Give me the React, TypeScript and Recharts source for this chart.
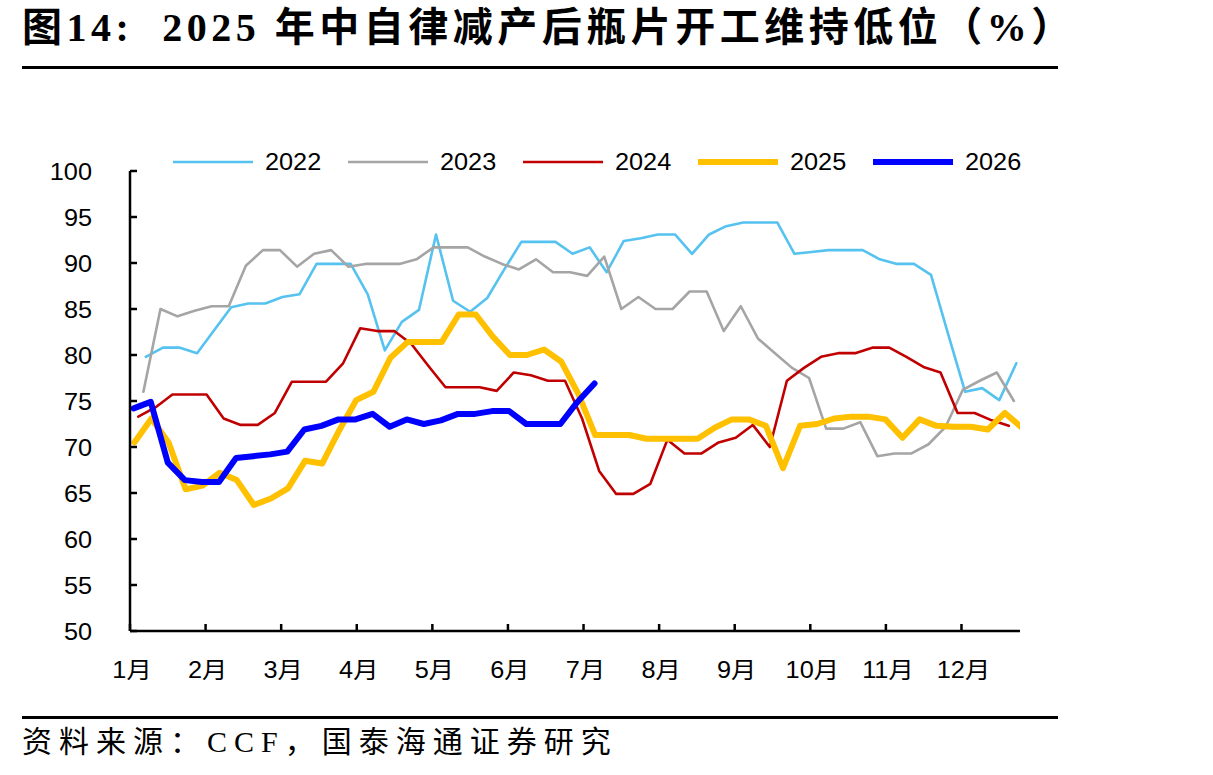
import React from "react";
import { LineChart, Line, XAxis, YAxis } from "recharts";

// weekly operating rate of PET bottle-chip plants, %
const years = ["2022", "2023", "2024", "2025", "2026"];

// day of year (0 = 1 Jan) of the first weekly reading in each year
const firstReadingDay = [6.5, 5.5, 3.4, 1.8, 1.5];

const rate2022 = [
  79.8, 80.8, 80.8, 80.2, 82.7, 85.2, 85.6, 85.6, 86.3, 86.6, 89.9, 89.9, 89.9,
  86.6, 80.5, 83.6, 84.9, 93.1, 85.9, 84.7, 86.2, 89.3, 92.3, 92.3, 92.3, 91.0,
  91.7, 89.0, 92.4, 92.7, 93.1, 93.1, 91.0, 93.1, 94.0, 94.4, 94.4, 94.4, 91.0,
  91.2, 91.4, 91.4, 91.4, 90.4, 89.9, 89.9, 88.7, 82.3, 76.0, 76.4, 75.1, 79.1,
];
const rate2023 = [
  76.0, 85.0, 84.2, 84.8, 85.3, 85.3, 89.7, 91.4, 91.4, 89.6, 91.0, 91.4, 89.6,
  89.9, 89.9, 89.9, 90.4, 91.7, 91.7, 91.7, 90.7, 89.9, 89.3, 90.4, 89.0, 89.0,
  88.6, 90.7, 85.0, 86.3, 85.0, 85.0, 86.9, 86.9, 82.6, 85.3, 81.8, 80.2, 78.6,
  77.5, 72.0, 72.0, 72.7, 69.0, 69.3, 69.3, 70.3, 72.2, 76.2, 77.2, 78.1, 75.0,
];
const rate2024 = [
  73.3, 74.3, 75.7, 75.7, 75.7, 73.1, 72.4, 72.4, 73.7, 77.1, 77.1, 77.1, 79.1,
  82.9, 82.6, 82.6, 81.2, 78.8, 76.5, 76.5, 76.5, 76.1, 78.1, 77.8, 77.2, 77.2,
  73.1, 67.4, 64.9, 64.9, 66.0, 70.8, 69.3, 69.3, 70.5, 71.0, 72.4, 70.0, 77.2,
  78.6, 79.8, 80.2, 80.2, 80.8, 80.8, 79.8, 78.7, 78.1, 73.7, 73.7, 72.9, 72.3,
];
const rate2025 = [
  70.5, 73.1, 70.5, 65.4, 65.8, 67.2, 66.4, 63.7, 64.4, 65.5, 68.5, 68.2, 71.8,
  75.1, 76.0, 79.7, 81.4, 81.4, 81.4, 84.4, 84.4, 82.0, 80.0, 80.0, 80.6, 79.3,
  75.8, 71.3, 71.3, 71.3, 70.9, 70.9, 70.9, 70.9, 72.1, 73.0, 73.0, 72.3, 67.7,
  72.3, 72.5, 73.1, 73.3, 73.3, 73.0, 71.0, 73.0, 72.3, 72.2, 72.2, 71.9, 73.7,
  72.1,
];
const rate2026 = [
  74.2, 74.9, 68.3, 66.4, 66.2, 66.2, 68.8, 69.0, 69.2, 69.5, 71.9, 72.3, 73.0,
  73.0, 73.6, 72.2, 73.0, 72.5, 72.9, 73.6, 73.6, 73.9, 73.9, 72.5, 72.5, 72.5,
  74.9, 76.9,
];

const rates = [rate2022, rate2023, rate2024, rate2025, rate2026];

const monthLabels = ["1月", "2月", "3月", "4月", "5月", "6月", "7月", "8月", "9月", "10月", "11月", "12月"];
const monthTickDays = [0, 31, 62, 93, 124, 155, 186, 217, 248, 279, 310, 341];
const yTicks = [50, 55, 60, 65, 70, 75, 80, 85, 90, 95, 100];

const colors = ["#55C2F0", "#A5A5A5", "#C00000", "#FFC000", "#0000FF"];
const widths = [2.6, 2.6, 2.6, 6, 6];

const series = years.map((year, k) => ({
  year,
  points: rates[k].map((v, i) => ({ day: firstReadingDay[k] + i * 7, v })),
}));

const FONT = "'Liberation Sans', Arial, 'Noto Sans CJK SC', sans-serif";
const STRETCH = 1.1;
const TICK_FS = 23;

const YTick = (props: any) => {
  const { x, y, payload } = props;
  const axisX = x + 38;
  return (
    <g>
      <line x1={axisX} x2={axisX + 7} y1={y} y2={y} stroke="#000" strokeWidth={2.5} />
      <text
        transform={`translate(${x},${y + 1}) scale(${STRETCH},1)`}
        textAnchor="end"
        dominantBaseline="central"
        fontSize={TICK_FS}
        fontFamily={FONT}
        fill="#000"
      >
        {payload.value}
      </text>
    </g>
  );
};

const XTick = (props: any) => {
  const { x, y, payload, index } = props;
  return (
    <g>
      <line x1={x} x2={x} y1={y} y2={y - 7} stroke="#000" strokeWidth={2.5} />
      <text
        transform={`translate(${x + 2},${y + 47}) scale(${STRETCH},1)`}
        textAnchor="middle"
        fontSize={TICK_FS}
        fontFamily={FONT}
        fill="#000"
      >
        {monthLabels[index]}
      </text>
    </g>
  );
};

function ChartLegend() {
  return (
    <div style={{ position: "absolute", left: 173, top: 148, display: "flex", height: 28 }}>
      {series.map((s, k) => (
        <div key={s.year} style={{ display: "flex", alignItems: "center", width: 175 }}>
          <svg width={80} height={12}>
            <line x1={0} x2={80} y1={6} y2={6} stroke={colors[k]} strokeWidth={widths[k]} />
          </svg>
          <svg width={80} height={28} style={{ marginLeft: 12 }}>
            <text
              transform={`translate(0,22) scale(${STRETCH},1)`}
              fontSize={TICK_FS}
              fontFamily={FONT}
              fill="#000"
            >
              {s.year}
            </text>
          </svg>
        </div>
      ))}
    </div>
  );
}

export default function App() {
  return (
    <div
      style={{
        position: "absolute",
        left: 0,
        top: 0,
        width: 1213,
        height: 775,
        background: "#fff",
        overflow: "hidden",
      }}
    >
      <div
        style={{
          position: "absolute",
          left: 22,
          top: 2,
          fontFamily: "'Liberation Serif', 'Noto Sans CJK SC', serif",
          fontWeight: 700,
          fontSize: 40,
          letterSpacing: 4.5,
          whiteSpace: "nowrap",
          lineHeight: "52px",
        }}
      >
        图14:&nbsp; 2025 年中自律减产后瓶片开工维持低位（%）
      </div>
      <div style={{ position: "absolute", left: 22, top: 66, width: 1036, height: 3, background: "#000" }} />

      <ChartLegend />

      <LineChart
        width={1213}
        height={775}
        margin={{ top: 171, right: 193, bottom: 104, left: 0 }}
        style={{ position: "absolute", left: 0, top: 0 }}
      >
        <XAxis
          type="number"
          dataKey="day"
          domain={[0, 365]}
          allowDataOverflow
          ticks={monthTickDays}
          interval={0}
          height={40}
          tickSize={0}
          tickMargin={0}
          axisLine={{ stroke: "#000", strokeWidth: 2.5 }}
          tickLine={false}
          tick={<XTick />}
        />
        <YAxis
          type="number"
          domain={[50, 100]}
          ticks={yTicks}
          interval={0}
          width={130}
          tickSize={0}
          tickMargin={38}
          axisLine={{ stroke: "#000", strokeWidth: 2.5 }}
          tickLine={false}
          tick={<YTick />}
        />
        {series.map((s, k) => (
          <Line
            key={s.year}
            data={s.points}
            dataKey="v"
            name={s.year}
            type="linear"
            stroke={colors[k]}
            strokeWidth={widths[k]}
            strokeLinejoin="round"
            strokeLinecap="round"
            dot={false}
            activeDot={false}
            isAnimationActive={false}
          />
        ))}
      </LineChart>

      <div style={{ position: "absolute", left: 22, top: 716, width: 1036, height: 3, background: "#000" }} />
      <div
        style={{
          position: "absolute",
          left: 22,
          top: 722,
          fontFamily: "'Liberation Serif', 'Noto Sans CJK SC', serif",
          fontSize: 30,
          letterSpacing: 7,
          whiteSpace: "nowrap",
          lineHeight: "40px",
        }}
      >
        资料来源：CCF，国泰海通证券研究
      </div>
    </div>
  );
}
